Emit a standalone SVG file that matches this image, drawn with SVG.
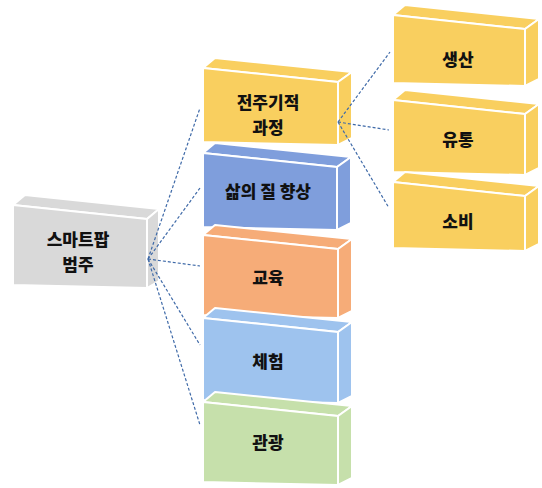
<svg xmlns="http://www.w3.org/2000/svg" width="542" height="488" viewBox="0 0 542 488">
<style>
.f{stroke:#fff;stroke-width:2;stroke-linejoin:round}
.gray{fill:#D9D9D9}.yel{fill:#F9CF5F}.blu{fill:#7F9EDC}.org{fill:#F6AC78}.lbl{fill:#9EC3EE}.grn{fill:#C6E0AB}
text{font-family:"Noto Sans CJK KR","Noto Sans",sans-serif;font-weight:900;font-size:17px;fill:#111;text-anchor:middle}
.c{fill:none;stroke:#3F6AA8;stroke-width:1.2;stroke-dasharray:3 2}
</style>
<rect width="542" height="488" fill="#fff"/>
<g id="smartfarm" class="gray">
<polygon class="f" points="13,205 25,195 159,209 147,219"/>
<polygon class="f" points="147,219 159,209 159,281 147,288"/>
<polygon class="f" points="13,205 147,219 147,288 13,285"/>
<text x="78" y="246">스마트팝</text>
<text x="78" y="271">범주</text>
</g>
<g id="process" class="yel">
<polygon class="f" points="203,68 215,58 352,72 338,82"/>
<polygon class="f" points="338,82 352,72 352,138 338,145"/>
<polygon class="f" points="203,68 338,82 338,145 203,142"/>
<text x="268" y="109">전주기적</text>
<text x="268" y="134">과정</text>
</g>
<g id="quality" class="blu">
<polygon class="f" points="203,153 215,143 351,157 337,167"/>
<polygon class="f" points="337,167 351,157 351,223 337,230"/>
<polygon class="f" points="203,153 337,167 337,230 203,227"/>
<text x="268" y="198">삶의 질 향상</text>
</g>
<g id="education" class="org">
<polygon class="f" points="203,235 215,225 352,239 338,249"/>
<polygon class="f" points="338,249 352,239 352,311 338,318"/>
<polygon class="f" points="203,235 338,249 338,318 203,315"/>
<text x="268" y="284">교육</text>
</g>
<g id="experience" class="lbl">
<polygon class="f" points="203,318 215,308 352,322 338,332"/>
<polygon class="f" points="338,332 352,322 352,396 338,403"/>
<polygon class="f" points="203,318 338,332 338,403 203,400"/>
<text x="268" y="368">체험</text>
</g>
<g id="tourism" class="grn">
<polygon class="f" points="203,402 215,392 352,406 338,416"/>
<polygon class="f" points="338,416 352,406 352,478 338,485"/>
<polygon class="f" points="203,402 338,416 338,485 203,482"/>
<text x="268" y="449">관광</text>
</g>
<g id="production" class="yel">
<polygon class="f" points="393,15 405,5 539,19 525,29"/>
<polygon class="f" points="525,29 539,19 539,79 525,86"/>
<polygon class="f" points="393,15 525,29 525,86 393,83"/>
<text x="458" y="66">생산</text>
</g>
<g id="distribution" class="yel">
<polygon class="f" points="393,100 405,90 539,104 525,114"/>
<polygon class="f" points="525,114 539,104 539,168 525,175"/>
<polygon class="f" points="393,100 525,114 525,175 393,172"/>
<text x="458" y="146">유통</text>
</g>
<g id="consumption" class="yel">
<polygon class="f" points="393,182 405,172 539,186 525,196"/>
<polygon class="f" points="525,196 539,186 539,244 525,251"/>
<polygon class="f" points="393,182 525,196 525,251 393,248"/>
<text x="458" y="228">소비</text>
</g>
<g id="connectors">
<line class="c" x1="148" y1="259" x2="200" y2="108"/>
<line class="c" x1="148" y1="259" x2="200" y2="188"/>
<line class="c" x1="148" y1="259" x2="200" y2="266"/>
<line class="c" x1="148" y1="259" x2="200" y2="345"/>
<line class="c" x1="148" y1="259" x2="200" y2="425"/>
<line class="c" x1="338" y1="122" x2="390" y2="52"/>
<line class="c" x1="338" y1="122" x2="389" y2="130"/>
<line class="c" x1="338" y1="122" x2="389" y2="208"/>
</g>
</svg>
